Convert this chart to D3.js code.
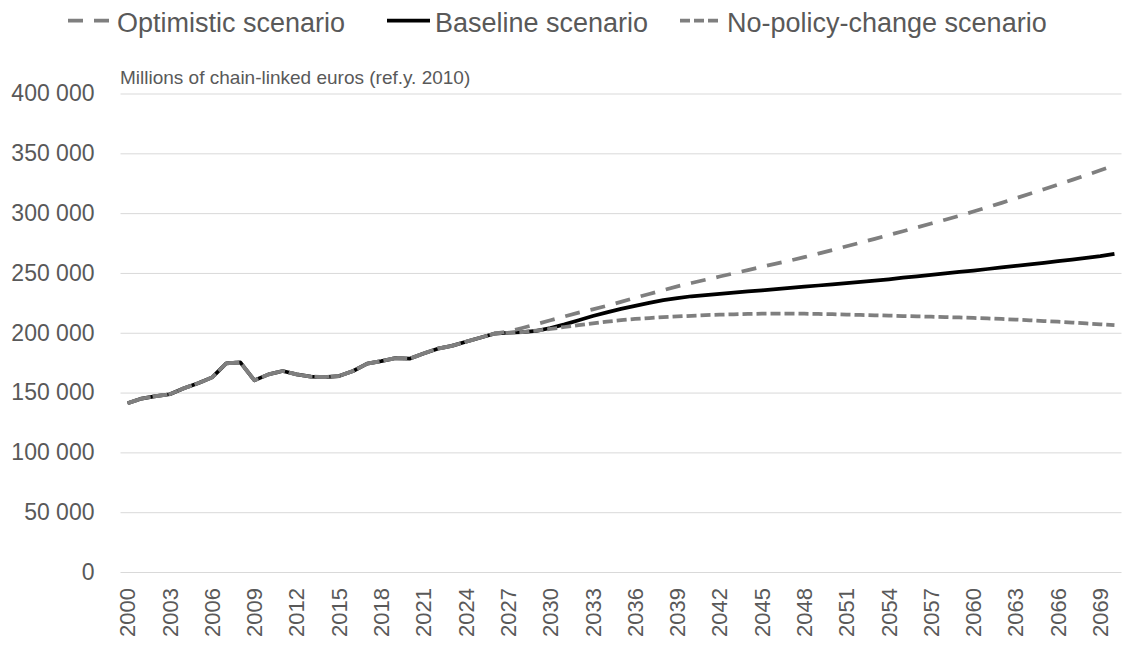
<!DOCTYPE html>
<html>
<head>
<meta charset="utf-8">
<script src="https://cdn.jsdelivr.net/npm/d3@7"></script>
<style>
  body { margin: 0; background: #fff; }
  text { font-family: "Liberation Sans", Arial, sans-serif; fill: #595959; }
</style>
</head>
<body>
<svg id="chart" width="1122" height="646"></svg>
<script>
// years on the category axis
const years = d3.range(2000, 2071);
const tickYears = d3.range(2000, 2070, 3);
const yTicks = [0, 50000, 100000, 150000, 200000, 250000, 300000, 350000, 400000];

// history 2000-2026 (thousands of millions), shared by all scenarios
const history = [141, 145, 147, 148.6, 153.6, 157.7, 162.7, 174.4, 175.2, 160.2,
  165.2, 168, 165.2, 163.3, 163, 163.8, 168, 174.2, 176.3, 178.8,
  178.3, 182.7, 186.7, 189, 192.5, 195.8, 199.2];

// projections 2027-2070
const optimistic = [201, 204, 207.2, 210.4, 213.6, 216.8, 219.6, 222.5, 225.8, 229.2,
  232.4, 235.6, 238.8, 241.6, 244.3, 247, 249.7, 252.4, 255.1, 257.8,
  260.4, 263.2, 266.2, 269.2, 272.3, 275.4, 278.5, 281.7, 284.9, 288.1,
  291.3, 294.5, 297.8, 301.3, 304.9, 308.6, 312.4, 316.2, 320, 323.9,
  327.8, 331.8, 335.8, 339.8];
const baseline = [200, 200.5, 201.5, 204, 207, 210.5, 214, 217, 220, 222.5,
  225, 227.3, 229, 230.5, 231.5, 232.5, 233.5, 234.5, 235.5, 236.5,
  237.5, 238.5, 239.5, 240.5, 241.5, 242.5, 243.5, 244.7, 246, 247.2,
  248.4, 249.6, 250.8, 252, 253.3, 254.6, 255.9, 257.2, 258.5, 259.8,
  261.2, 262.6, 264, 266];
const noPolicy = [200, 200.6, 201.8, 203.2, 204.8, 206.3, 207.8, 209.3, 210.5, 211.5,
  212.3, 213, 213.6, 214.2, 214.7, 215.1, 215.4, 215.7, 215.9, 216,
  216, 215.9, 215.7, 215.5, 215.2, 214.9, 214.6, 214.3, 214, 213.7,
  213.4, 213.1, 212.8, 212.4, 212, 211.5, 211, 210.4, 209.8, 209.2,
  208.5, 207.8, 207.1, 206.4];

const series = [
  { name: "Baseline scenario", values: history.concat(baseline), color: "#000", dash: null },
  { name: "Optimistic scenario", values: history.concat(optimistic), color: "#7f7f7f", dash: "15,11" },
  { name: "No-policy-change scenario", values: history.concat(noPolicy), color: "#7f7f7f", dash: "10,4" }
];

const svg = d3.select("#chart");
const plotLeft = 120.5, plotRight = 1121.5, plotTop = 93.5, plotBottom = 572;

const x = d3.scaleBand().domain(years).range([plotLeft, plotRight]);
const y = d3.scaleLinear().domain([0, 400000]).range([plotBottom, plotTop]);

// grid + y labels
const yAxis = svg.append("g")
  .attr("transform", `translate(${plotLeft},0)`)
  .call(d3.axisLeft(y).tickValues(yTicks).tickSize(-(plotRight - plotLeft)).tickPadding(26)
    .tickFormat(d => d3.format(",")(d).replace(/,/g, " ")));
yAxis.select(".domain").remove();
yAxis.selectAll("line").attr("stroke", "#d9d9d9").attr("stroke-width", 1);
yAxis.selectAll("text").style("font-size", "23px").attr("fill", "#595959");

// x labels
const xAxis = svg.append("g")
  .attr("transform", `translate(0,${plotBottom})`)
  .call(d3.axisBottom(x).tickValues(tickYears).tickSize(0));
xAxis.select(".domain").remove();
xAxis.selectAll("text")
  .style("font-size", "22px")
  .attr("fill", "#595959")
  .attr("text-anchor", "end")
  .attr("transform", "rotate(-90)")
  .attr("x", -16)
  .attr("y", 0)
  .attr("dy", "0.35em");

// lines
const line = d3.line()
  .x((d, i) => x(years[i]) + x.bandwidth() / 2)
  .y(d => y(d * 1000));

svg.append("g").selectAll("path")
  .data(series)
  .join("path")
    .attr("d", d => line(d.values))
    .attr("fill", "none")
    .attr("stroke", d => d.color)
    .attr("stroke-width", 3.75)
    .attr("stroke-dasharray", d => d.dash)
    .attr("stroke-linejoin", "round");

// unit label
svg.append("text")
  .attr("x", 120)
  .attr("y", 84)
  .style("font-size", "19px")
  .text("Millions of chain-linked euros (ref.y. 2010)");

// legend
const legendItems = [
  { s: series[1], x0: 68, x1: 110, tx: 117 },
  { s: series[0], x0: 387, x1: 430, tx: 435 },
  { s: series[2], x0: 680, x1: 721, tx: 727 }
];
const lg = svg.append("g").selectAll("g").data(legendItems).join("g");
lg.append("line")
  .attr("x1", d => d.x0).attr("x2", d => d.x1)
  .attr("y1", 20.5).attr("y2", 20.5)
  .attr("stroke", d => d.s.color)
  .attr("stroke-width", 3.75)
  .attr("stroke-dasharray", d => d.s.dash);
lg.append("text")
  .attr("x", d => d.tx)
  .attr("y", 32)
  .style("font-size", "27px")
  .text(d => d.s.name);
</script>
</body>
</html>
